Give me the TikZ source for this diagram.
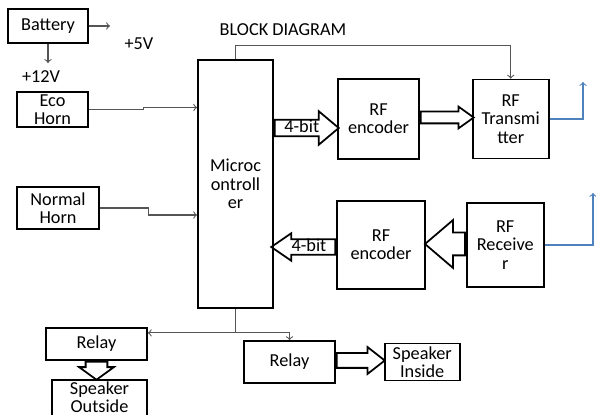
\documentclass[tikz,border=0pt]{standalone}
\usepackage{fontspec}
\setmainfont{Carlito}
\usepackage{xcolor}
\usepackage{tikz}
\usetikzlibrary{shapes.geometric, shapes.arrows, arrows, positioning, calc}

\definecolor{antblue}{RGB}{79,129,189}
\definecolor{wiregray}{RGB}{85,85,85}

\begin{document}
\begin{tikzpicture}[
        x=0.02cm, y=-0.02cm,
        font=\fontsize{10.4}{10.4}\selectfont,
        box/.style={rectangle, draw, line width=1pt, align=center, inner sep=0pt},
        wire/.style={->, draw=wiregray, line width=0.6pt},
        antenna/.style={->, draw=antblue, line width=0.6pt},
        fatarrow/.style={single arrow, draw, line width=1pt, inner sep=0pt, text depth=0pt, anchor=tail},
        >=to
    ]

    \useasboundingbox (0,0) rectangle (596,415);
    \clip (0,0) rectangle (596,415);

    \node (battery) [box, minimum width=1.6cm, minimum height=0.68cm] at (48,26) {Battery};
    \node (ecohorn) [box, minimum width=1.42cm, minimum height=0.7cm] at (52.5,109.5) {Eco\\Horn};
    \node (normalhorn) [box, minimum width=1.64cm, minimum height=0.84cm] at (58,208) {Normal\\Horn};
    \node (micro) [box, minimum width=1.5cm, minimum height=4.96cm] at (235.5,184) {Microc\\ontroll\\er};
    \node (enc1) [box, minimum width=1.62cm, minimum height=1.6cm] at (378.5,119) {RF\\encoder};
    \node (trans) [box, minimum width=1.52cm, minimum height=1.58cm, right=1.04cm of enc1] {RF\\Transmi\\tter};
    \node (enc2) [box, minimum width=1.76cm, minimum height=1.76cm] at (381,245) {RF\\encoder};
    \node (recv) [box, minimum width=1.54cm, minimum height=1.68cm, right=0.8cm of enc2] {RF\\Receive\\r};
    \node (relay1) [box, minimum width=2.02cm, minimum height=0.64cm] at (96.5,344) {Relay};
    \node (spkout) [box, minimum width=1.9cm, minimum height=0.84cm, text depth=4pt, below=0.36cm of relay1, xshift=0.06cm] {Speaker\\Outside};
    \node (relay2) [box, minimum width=1.82cm, minimum height=0.84cm] at (289.5,362) {Relay};
    \node (spkin) [box, minimum width=1.5cm, minimum height=0.74cm, right=0.96cm of relay2] {Speaker\\Inside};

    \node (title) at (283,30) {BLOCK DIAGRAM};
    \node (lbl5v) at (139,44) {+5V};
    \node (lbl12v) at (41,77) {+12V};

    \coordinate (fivev) at (110,26);
    \coordinate (twelvev) at (48,63);
    \coordinate (txant) at (583,82);
    \coordinate (rxant) at (593,193);
    \coordinate (split) at ($(micro.south)+(0,24)$);

    % power
    \draw[wire] (battery.east) -- (fivev);
    \draw[wire] (battery.south) -- (twelvev);

    % horn inputs
    \draw[wire] (ecohorn.east) -- ++(55,0) -- ++(0,-2) -- (micro.west |- 0,107.5);
    \draw[wire] (normalhorn.east) -- ++(49,0) -- ++(0,7) -- (micro.west |- 0,215);
    \draw[wire] (micro.north) -- ++(0,-14) -| (trans.north);

    % antennas
    \draw[antenna] (trans.east) -| (txant);
    \draw[antenna] (recv.east) -| (rxant);

    % data paths
    \node (bitout) [fatarrow, minimum height=1.28cm, single arrow head extend=0.17cm, text height=6.5pt, text depth=1.5pt, inner ysep=0.25pt, single arrow tip angle=80] at (micro.east |- 0,128) {4-bit};
    \node (txdata) [fatarrow, minimum height=1.06cm, single arrow head extend=0.1cm, text height=0.2cm, single arrow tip angle=71] at (enc1.east |- 0,117.5) {};
    \node (bitin) [fatarrow, shape border rotate=180, minimum height=1.28cm, single arrow head extend=0.12cm, text height=6.3pt, text depth=1.6pt, single arrow tip angle=69] at (enc2.west |- 0,247) {4-bit};
    \node (rxdata) [fatarrow, shape border rotate=180, minimum height=0.8cm, single arrow head extend=0.25cm, text height=0.42cm, single arrow tip angle=81] at (recv.west |- 0,244) {};

    % relays
    \draw[draw=wiregray, line width=0.6pt] (micro.south) -- (split);
    \draw[wire] (split) -- (relay1.east |- split);
    \draw[wire] (split) -| (relay2.north);
    \node (outdrive) [fatarrow, shape border rotate=270, minimum height=0.36cm, single arrow head extend=0.13cm, text width=0.4cm, text height=0pt, single arrow tip angle=108] at (relay1.south) {};
    \node (indrive) [fatarrow, minimum height=0.96cm, single arrow head extend=0.12cm, text height=0.26cm, single arrow tip angle=76] at (relay2.east |- 0,360.5) {};

\end{tikzpicture}
\end{document}
